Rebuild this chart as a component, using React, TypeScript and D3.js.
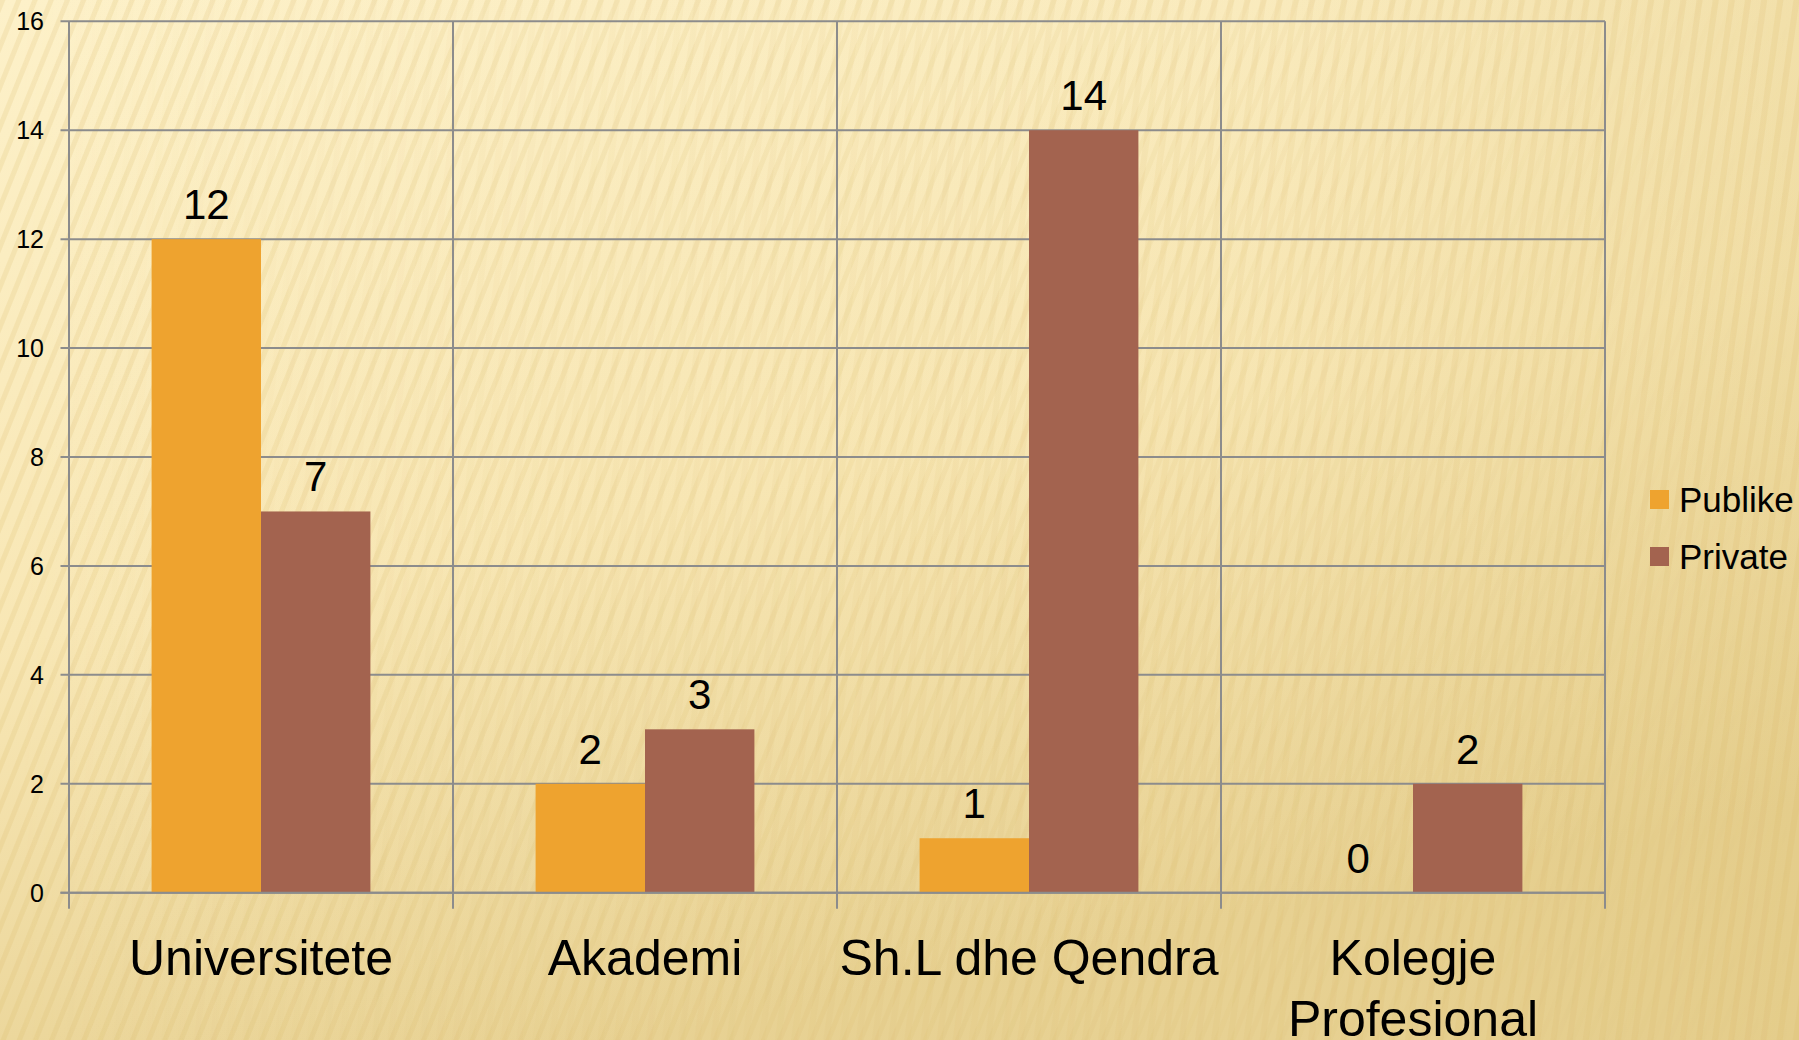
import React from "react";
import * as d3 from "d3";

const categories = ["Universitete", "Akademi", "Sh.L dhe Qendra", "Kolegje Profesional"];
const categoryLines = [["Universitete"], ["Akademi"], ["Sh.L dhe Qendra"], ["Kolegje", "Profesional"]];
const seriesNames = ["Publike", "Private"];
const publike = [12, 2, 1, 0];
const privateVals = [7, 3, 14, 2];
const yTicks = [0, 2, 4, 6, 8, 10, 12, 14, 16];
const colors = ["#EEA32F", "#A3634F"];

const W = 1799;
const H = 1040;
const left = 69;
const right = 1605;
const top = 21.3;
const bottom = 892.7;

export default function App() {
  const x = d3.scaleBand<string>().domain(categories).range([left, right]).paddingInner(0).paddingOuter(0);
  const y = d3.scaleLinear().domain([0, 16]).range([bottom, top]);
  const bw = x.bandwidth();
  const inner = d3.scaleBand<string>().domain(seriesNames).range([0, bw]).paddingOuter(0.755).paddingInner(0);
  const series = [publike, privateVals];
  const font = "'Liberation Sans', Arial, sans-serif";
  const gridColor = "#8C8C8C";

  return (
    <svg width={W} height={H} style={{ position: "fixed", left: 0, top: 0 }} fontFamily={font}>
      <defs>
        <linearGradient id="bg" x1="0" y1="0" x2="0.35" y2="1">
          <stop offset="0" stopColor="#FDF1C9" />
          <stop offset="0.55" stopColor="#F8E7B5" />
          <stop offset="1" stopColor="#E8D294" />
        </linearGradient>
        <linearGradient id="shade" x1="0" y1="0" x2="1" y2="0">
          <stop offset="0" stopColor="#D9BE70" stopOpacity="0" />
          <stop offset="0.7" stopColor="#D9BE70" stopOpacity="0.05" />
          <stop offset="1" stopColor="#D9BE70" stopOpacity="0.25" />
        </linearGradient>
        <pattern id="stripesL" width="15" height="40" patternUnits="userSpaceOnUse" patternTransform="rotate(22)">
          <rect x="0" y="0" width="5" height="40" fill="#D8B864" opacity="0.18" />
        </pattern>
        <pattern id="stripesR" width="16" height="40" patternUnits="userSpaceOnUse" patternTransform="rotate(8)">
          <rect x="0" y="0" width="6" height="40" fill="#D8B864" opacity="0.16" />
        </pattern>
        <linearGradient id="fadeL" x1="0" y1="0" x2="1" y2="0">
          <stop offset="0" stopColor="white" stopOpacity="1" />
          <stop offset="0.6" stopColor="white" stopOpacity="0.6" />
          <stop offset="1" stopColor="white" stopOpacity="0" />
        </linearGradient>
        <linearGradient id="fadeR" x1="0" y1="0" x2="1" y2="0">
          <stop offset="0" stopColor="white" stopOpacity="0" />
          <stop offset="0.5" stopColor="white" stopOpacity="0.5" />
          <stop offset="1" stopColor="white" stopOpacity="1" />
        </linearGradient>
        <mask id="mL"><rect width={W} height={H} fill="url(#fadeL)" /></mask>
        <mask id="mR"><rect width={W} height={H} fill="url(#fadeR)" /></mask>
      </defs>
      <rect width={W} height={H} fill="url(#bg)" />
      <rect width={W} height={H} fill="url(#shade)" />
      <rect width={W} height={H} fill="url(#stripesL)" mask="url(#mL)" />
      <rect width={W} height={H} fill="url(#stripesR)" mask="url(#mR)" />

      {/* horizontal gridlines */}
      {yTicks.map((t) => (
        <g key={t}>
          <line x1={left - 8.5} x2={right} y1={y(t)} y2={y(t)} stroke={gridColor} strokeWidth={2} />
          <text x={44} y={y(t) + 9} textAnchor="end" fontSize={25} fill="#000">
            {t}
          </text>
        </g>
      ))}

      {/* bars */}
      {categories.map((c, i) => (
        <g key={c}>
          {series.map((s, j) => {
            const bx = (x(c) as number) + (inner(seriesNames[j]) as number);
            const w = inner.bandwidth();
            return (
              <g key={j}>
                {s[i] > 0 && (
                  <rect x={bx} y={y(s[i])} width={w} height={y(0) - y(s[i])} fill={colors[j]} />
                )}
                <text x={bx + w / 2} y={y(s[i]) - 20} textAnchor="middle" fontSize={42} fill="#000">
                  {s[i]}
                </text>
              </g>
            );
          })}
        </g>
      ))}

      {/* vertical gridlines at category boundaries */}
      {[...categories.map((c) => x(c) as number), right].map((vx, k) => (
        <line key={k} x1={vx} x2={vx} y1={top} y2={bottom + 16} stroke={gridColor} strokeWidth={2} />
      ))}
      <line x1={left - 8.5} x2={right} y1={y(0)} y2={y(0)} stroke={gridColor} strokeWidth={2} />

      {/* category labels */}
      {categories.map((c, i) => (
        <text key={c} x={(x(c) as number) + bw / 2} y={975} textAnchor="middle" fontSize={50} fill="#000">
          {categoryLines[i].map((ln, k) => (
            <tspan key={k} x={(x(c) as number) + bw / 2} dy={k === 0 ? 0 : 61}>
              {ln}
            </tspan>
          ))}
        </text>
      ))}

      {/* legend */}
      {seriesNames.map((n, j) => (
        <g key={n} transform={`translate(1650, ${490 + j * 57})`}>
          <rect x={0} y={0} width={19} height={19} fill={colors[j]} />
          <text x={29} y={21.5} fontSize={35} fill="#000">
            {n}
          </text>
        </g>
      ))}
    </svg>
  );
}
